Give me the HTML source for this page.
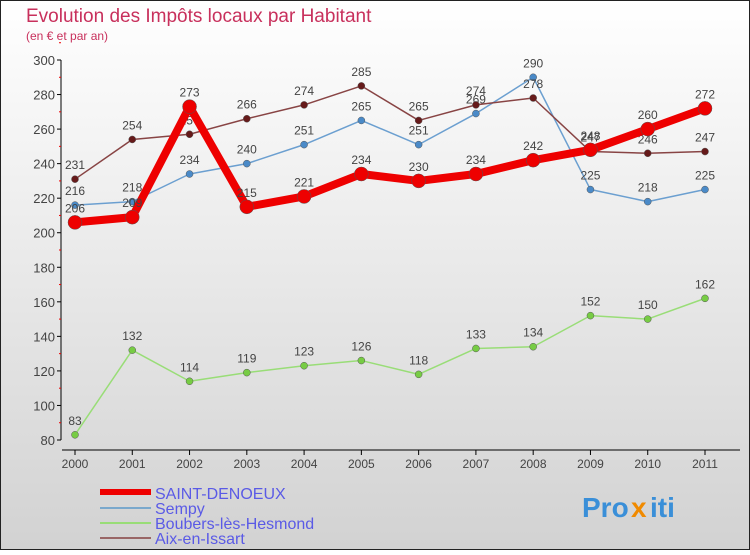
<!DOCTYPE html>
<html><head><meta charset="utf-8"><style>
body{margin:0}
#c{width:750px;height:550px;position:relative;font-family:"Liberation Sans",sans-serif;}
</style></head><body>
<div id="c">
<svg id="s" width="750" height="550" xmlns="http://www.w3.org/2000/svg">
<defs><linearGradient id="bg" x1="0" y1="0" x2="0" y2="1"><stop offset="0" stop-color="#ffffff"/><stop offset="1" stop-color="#d2d2d2"/></linearGradient></defs>
<rect x="0.5" y="0.5" width="749" height="549" fill="url(#bg)" stroke="#222"/>
<text x="26" y="22" font-size="19" fill="#c8305c">Evolution des Impôts locaux par Habitant</text>
<text x="26" y="40" font-size="12" fill="#c8305c">(en € et par an)</text>
<g id="axes"></g><g id="series"></g>
<g>
<rect x="100" y="489" width="51" height="6" fill="#e00"/>
<text x="155" y="499" font-size="16" fill="#5a5ae6">SAINT-DENOEUX</text>
<rect x="100" y="507" width="51" height="2" fill="#7aa8cc"/>
<text x="155" y="514" font-size="16" fill="#5a5ae6">Sempy</text>
<rect x="100" y="522" width="51" height="2" fill="#99dd77"/>
<text x="155" y="529" font-size="16" fill="#5a5ae6">Boubers-lès-Hesmond</text>
<rect x="100" y="537" width="51" height="2" fill="#996666"/>
<text x="155" y="544" font-size="16" fill="#5a5ae6">Aix-en-Issart</text>
</g>
<g font-size="28" font-weight="bold">
<text x="582" y="517" fill="#3a8fd8">Pro</text><text x="631" y="517" fill="#f08a00">x</text><text x="650" y="517" fill="#3a8fd8">iti</text>
</g>
</svg>
</div>
<script>
const years=["2000","2001","2002","2003","2004","2005","2006","2007","2008","2009","2010","2011"];
const yTicks=[80,100,120,140,160,180,200,220,240,260,280,300];
const saint=[206,209,273,215,221,234,230,234,242,248,260,272];
const sempy=[216,218,234,240,251,265,251,269,290,225,218,225];
const boubers=[83,132,114,119,123,126,118,133,134,152,150,162];
const aix=[231,254,257,266,274,285,265,274,278,247,246,247];
const NS="http://www.w3.org/2000/svg";
const X=i=>75+i*(630/11);
const Y=v=>440-(v-80)*(380/220);
function mk(t,a,p){const e=document.createElementNS(NS,t);for(const k in a)e.setAttribute(k,a[k]);p.appendChild(e);return e;}
const ax=document.getElementById('axes');
mk('line',{x1:61,y1:60,x2:61,y2:440,stroke:'#000'},ax);
mk('line',{x1:62,y1:450,x2:740,y2:450,stroke:'#000'},ax);
yTicks.forEach(v=>{
 mk('line',{x1:57,y1:Y(v),x2:61,y2:Y(v),stroke:'#000'},ax);
 mk('line',{x1:59,y1:Y(v+10),x2:61,y2:Y(v+10),stroke:'#e00'},ax);
 const t=mk('text',{x:55,y:Y(v)+5,'font-size':13,fill:'#444','text-anchor':'end'},ax);
 
 
 t.textContent=v;
});
years.forEach((y,i)=>{
 mk('line',{x1:X(i),y1:450,x2:X(i),y2:455,stroke:'#000'},ax);
 const t=mk('text',{x:X(i),y:468,'font-size':12,fill:'#444','text-anchor':'middle'},ax);
 
 
 t.textContent=y;
});
const sg=document.getElementById('series');
function series(name,data,col,w,r,dot,lab){
 const g=mk('g',{},sg);
 
 
 mk('polyline',{points:data.map((v,i)=>X(i)+','+Y(v)).join(' '),fill:'none',stroke:col,'stroke-width':w,'stroke-linejoin':'round'},g);
 data.forEach((v,i)=>{
  const c=mk('circle',{cx:X(i),cy:Y(v),r:r,fill:dot,stroke:'#555','stroke-width':0.5},g);
  
  
  const t=mk('text',{x:X(i),y:Y(v)-10,'font-size':12,fill:'#444','text-anchor':'middle'},g);
  
  
  t.textContent=v;
 });
}
series('boubers',boubers,'#99dd77',1.5,3.5,'#77cc44');
series('sempy',sempy,'#6b9fd0',1.5,3.5,'#4a8ac8');
series('aix',aix,'#884444',1.5,3.5,'#661a1a');
series('saint-denoeux',saint,'#ee0000',8,7,'#ee0000');
</script>
</body></html>
